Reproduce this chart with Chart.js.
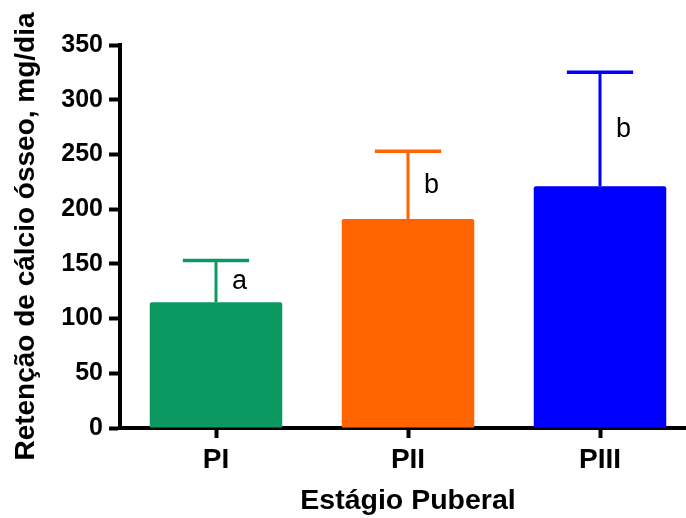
<!DOCTYPE html>
<html>
<head>
    <title>Retenção de cálcio ósseo</title>
    <style>
        html, body {
            margin: 0;
            padding: 0;
            background-color: #ffffff;
            overflow: hidden;
        }

        #chart-box {
            width: 706px;
            height: 518px;
        }
    </style>
    <script src="https://cdn.jsdelivr.net/npm/chart.js"></script>
</head>
<body>
    <div id="chart-box">
        <canvas id="calcio-chart" width="706" height="518"></canvas>
    </div>

<script>
    // Data
    var estagios = ['PI', 'PII', 'PIII'];
    var retencao = [115, 191, 221];      // mean, mg/dia
    var erroSup = [38, 62, 104];          // upper error bar
    var letras = ['a', 'b', 'b'];         // significance letters
    var yTicks = [0, 50, 100, 150, 200, 250, 300, 350];

    var cores = ['#0c9961', '#ff6400', '#0000ff'];

    // Draws the upward error bars and the letters next to them
    var errorBarPlugin = {
        id: 'errorBars',
        afterDatasetsDraw: function(chart) {
            var ctx = chart.ctx;
            var yScale = chart.scales.y;
            var meta = chart.getDatasetMeta(0);
            ctx.save();
            for (var i = 0; i < meta.data.length; i++) {
                var bar = meta.data[i];
                var topY = yScale.getPixelForValue(retencao[i] + erroSup[i]);
                var half = bar.width / 4;

                ctx.strokeStyle = cores[i];
                ctx.lineWidth = 3;
                ctx.beginPath();
                ctx.moveTo(bar.x, bar.y);
                ctx.lineTo(bar.x, topY);
                ctx.stroke();

                ctx.lineWidth = 3.5;
                ctx.beginPath();
                ctx.moveTo(bar.x - half, topY);
                ctx.lineTo(bar.x + half, topY);
                ctx.stroke();

                // letter halfway up the whisker
                var midY = yScale.getPixelForValue(retencao[i] + erroSup[i] / 2);
                ctx.fillStyle = '#000000';
                ctx.font = '27px Arial, "Liberation Sans", sans-serif';
                ctx.textAlign = 'left';
                ctx.textBaseline = 'middle';
                ctx.fillText(letras[i], bar.x + 16, midY);
            }
            ctx.restore();
        }
    };

    var ctx = document.getElementById('calcio-chart').getContext('2d');
    var myChart = new Chart(ctx, {
        type: 'bar',
        data: {
            labels: estagios,
            datasets: [{
                data: retencao,
                backgroundColor: cores,
                borderWidth: 0,
                borderRadius: 2,
                categoryPercentage: 1.0,
                barPercentage: 0.69
            }]
        },
        options: {
            responsive: false,
            animation: false,
            layout: {
                padding: { top: 45, right: 10, left: 0, bottom: 0 }
            },
            plugins: {
                legend: { display: false },
                tooltip: { enabled: false }
            },
            scales: {
                x: {
                    z: 1,
                    afterFit: function(scale) { scale.height = 90; },
                    border: { display: true, color: '#000000', width: 4 },
                    grid: {
                        display: true,
                        offset: false,
                        drawOnChartArea: false,
                        drawTicks: true,
                        tickLength: 10,
                        tickWidth: 4,
                        tickColor: '#000000'
                    },
                    ticks: {
                        color: '#000000',
                        padding: 5,
                        font: { family: 'Arial, "Liberation Sans", sans-serif', size: 28, weight: 'bold' }
                    },
                    title: {
                        display: true,
                        text: 'Estágio Puberal',
                        color: '#000000',
                        padding: { top: 0, bottom: 0 },
                        font: { family: 'Arial, "Liberation Sans", sans-serif', size: 28.5, weight: 'bold', lineHeight: 1.15 }
                    }
                },
                y: {
                    z: 1,
                    min: 0,
                    max: 350,
                    afterFit: function(scale) { scale.width = 120; },
                    afterBuildTicks: function(scale) {
                        scale.ticks = yTicks.map(function(v) { return { value: v }; });
                    },
                    border: { display: true, color: '#000000', width: 4 },
                    grid: {
                        display: true,
                        drawOnChartArea: false,
                        drawTicks: true,
                        tickLength: 11,
                        tickWidth: 4,
                        tickColor: '#000000'
                    },
                    ticks: {
                        color: '#000000',
                        padding: 6,
                        font: { family: 'Arial, "Liberation Sans", sans-serif', size: 25, weight: 'bold' }
                    },
                    title: {
                        display: true,
                        text: 'Retenção de cálcio ósseo, mg/dia',
                        color: '#000000',
                        padding: { top: 9, bottom: 0 },
                        font: { family: 'Arial, "Liberation Sans", sans-serif', size: 28, weight: 'bold', lineHeight: 1.2 }
                    }
                }
            }
        },
        plugins: [errorBarPlugin]
    });
</script>

</body>
</html>
